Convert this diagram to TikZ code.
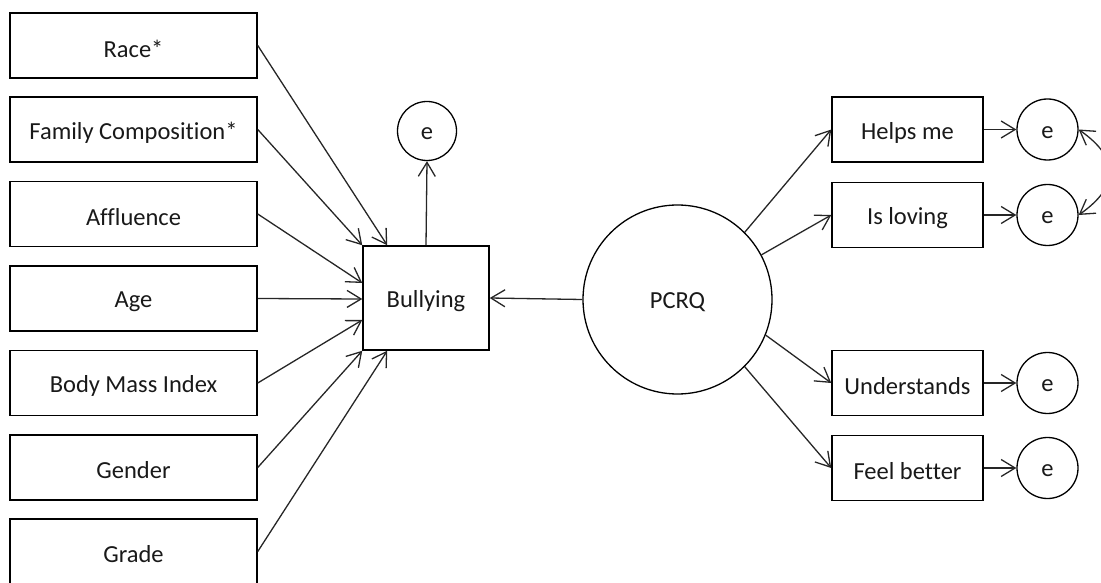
\documentclass[tikz,border=0pt]{standalone}
\usepackage{fontspec}
\setmainfont{Carlito}[Ligatures=NoCommon]
\usetikzlibrary{arrows.meta,calc}
\newcommand{\lowtxt}[1]{\raisebox{-3pt}[\height][\depth]{#1}}
\begin{document}
\begin{tikzpicture}[x=1pt,y=1pt,
  every node/.style={font=\fontsize{24.5}{28}\selectfont, text=black!90},
  lbox/.style={draw, line width=1.5pt, minimum width=247pt, minimum height=65pt, inner sep=0pt},
  rbox/.style={draw, line width=1.5pt, minimum width=151pt, minimum height=65pt, inner sep=0pt},
  bbox/.style={draw, line width=1.5pt, minimum width=126pt, minimum height=104pt, inner sep=0pt},
  errc/.style={draw, circle, line width=1.3pt, minimum size=60pt, inner sep=0pt},
  bigc/.style={draw, circle, line width=1.3pt, minimum size=189pt, inner sep=0pt},
  arr/.style={-{Straight Barb[length=14pt,width=17pt,line width=1.3pt]}, line width=1.3pt, draw=black!85},
  darr/.style={{Straight Barb[length=14pt,width=17pt,line width=1.3pt]}-{Straight Barb[length=14pt,width=17pt,line width=1.3pt]}, line width=1.3pt, draw=black!85}
]
\useasboundingbox (0,0) rectangle (1101,582);
% left boxes
\node[lbox] (race) at (133.5,536.5) {\lowtxt{Race*}};
\node[lbox] (fam)  at (133.5,452.5) {\lowtxt{Family Composition*}};
\node[lbox] (aff)  at (133.5,368) {\lowtxt{Affluence}};
\node[lbox] (age)  at (133.5,283.5) {\lowtxt{Age}};
\node[lbox] (bmi)  at (133.5,199) {\lowtxt{Body Mass Index}};
\node[lbox] (gen)  at (133.5,114.5) {\lowtxt{Gender}};
\node[lbox] (gra)  at (133.5,30.5) {\lowtxt{Grade}};
% bullying
\node[bbox] (bul) at (426,284) {\lowtxt{Bullying}};
\node[errc, minimum size=59pt] (eb) at (427,451) {\lowtxt{e}};
% PCRQ
\node[bigc] (pcrq) at (677.5,282.5) {\lowtxt{PCRQ}};
% right boxes
\node[rbox] (hel) at (907.5,452.5) {\lowtxt{Helps me}};
\node[rbox] (lov) at (907.5,367) {\lowtxt{Is loving}};
\node[rbox] (und) at (907.5,199) {\lowtxt{Understands}};
\node[rbox] (fee) at (907.5,114) {\lowtxt{Feel better}};
\node[errc, minimum size=61pt] (e1) at (1047.5,452.5) {\lowtxt{e}};
\node[errc, minimum size=61pt] (e2) at (1047.5,367) {\lowtxt{e}};
\node[errc, minimum size=61pt] (e3) at (1047.5,199) {\lowtxt{e}};
\node[errc, minimum size=61pt] (e4) at (1047.5,114) {\lowtxt{e}};
% arrows into bullying
\draw[arr] (race.east) -- ($(bul.north west)+(25,0)$);
\draw[arr] (fam.east) -- (bul.north west);
\draw[arr] (aff.east) -- ($(bul.west)+(0,15)$);
\draw[arr] (age.east) -- ($(bul.west)+(0,-1)$);
\draw[arr] (bmi.east) -- ($(bul.west)+(0,-22)$);
\draw[arr] (gen.east) -- (bul.south west);
\draw[arr] (gra.east) -- ($(bul.south west)+(25,0)$);
\draw[arr] (bul.north) -- (eb.south);
\draw[arr] (pcrq.west) -- (bul.east);
% PCRQ to indicators
\draw[arr] (pcrq.45) -- (hel.west);
\draw[arr] (pcrq.28) -- (lov.west);
\draw[arr] (pcrq.-22) -- (und.west);
\draw[arr] (pcrq.-45) -- (fee.west);
\draw[arr] (hel.east) -- (e1.west);
\draw[arr] (lov.east) -- (e2.west);
\draw[arr] (und.east) -- (e3.west);
\draw[arr] (fee.east) -- (e4.west);
\draw[darr] (e1.east) to[out=-35,in=35,looseness=1.5] (e2.east);
\end{tikzpicture}
\end{document}
